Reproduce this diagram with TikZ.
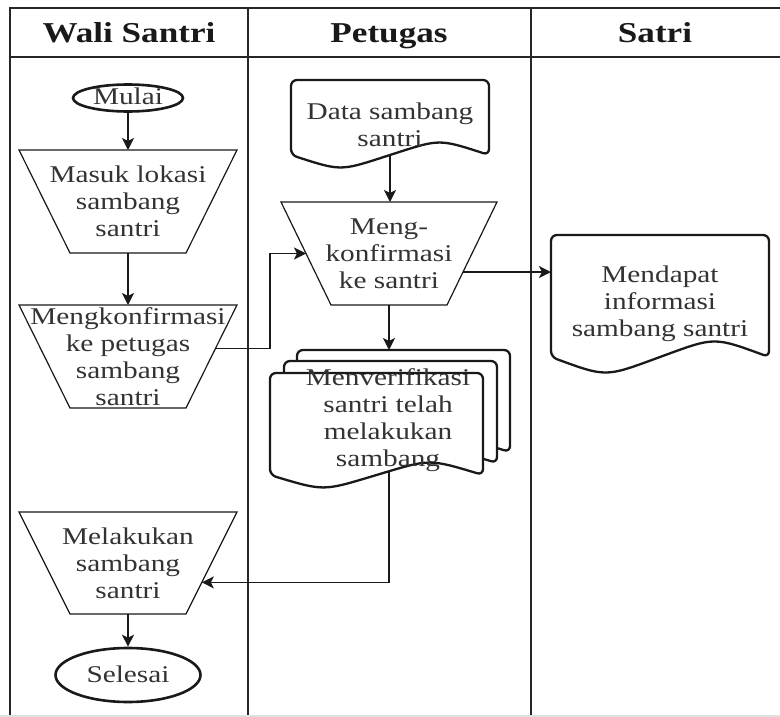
\documentclass[tikz,border=0pt]{standalone}
\usepackage{fontspec}
\setmainfont{Liberation Serif}[FakeStretch=1.22]
\usetikzlibrary{arrows.meta,calc,shapes.geometric}

\newcommand\trapz[2]{%
  \coordinate (#1-se) at ($(#1.south east)+(-#2,0)$);
  \coordinate (#1-sw) at ($(#1.south west)+(#2,0)$);
  \draw[trap] (#1.north west) -- (#1.north east) -- (#1-se) -- (#1-sw) -- cycle;}
\newcommand\docz[2]{%
  \draw[docl] (#1.north) -- (#1.north east) -- (#1.south east)
    .. controls ($(#1.south east)!0.5!(#1.south)+(0,-#2)$) .. (#1.south)
    .. controls ($(#1.south west)!0.5!(#1.south)+(0,#2)$) .. (#1.south west)
    -- (#1.north west) -- cycle;}

\begin{document}
\begin{tikzpicture}[x=1pt,y=-1pt,
  lane/.style={line width=1.8pt, draw=black!85},
  hdr/.style={font=\fontsize{28.8}{34}\selectfont\bfseries, text=black!90, inner sep=0, anchor=base},
  txt/.style={font=\fontsize{24}{27}\selectfont, align=center, text=black!80, inner sep=0},
  box/.style={draw=none, inner sep=0, outer sep=0, rectangle},
  trap/.style={line width=1.2pt, fill=white, draw=black!90},
  docl/.style={line width=2.3pt, fill=white, rounded corners=6pt, draw=black!90},
  term/.style={ellipse, draw=black!90, line width=2.6pt, inner sep=0, fill=white,
    font=\fontsize{24}{27}\selectfont, text=black!80, text height=16pt, text depth=2pt},
  arr/.style={line width=1.4pt, draw=black!90, -{Stealth[length=12pt,width=12pt,inset=3pt]}},
]
\useasboundingbox (0,0) rectangle (780,717);
\fill[white] (0,0) rectangle (780,717);

% lanes
\draw[lane] (10,717) -- (10,8) -- (780,8);
\draw[lane] (10,57) -- (780,57);
\draw[lane] (248,8) -- (248,717);
\draw[lane] (531,8) -- (531,717);
\draw[black!12, line width=1.5pt] (0,716) -- (780,716);

\node[hdr] (h1) at (129,43) {Wali Santri};
\node[hdr] (h2) at (389,43) {Petugas};
\node[hdr] (h3) at (655,43) {Satri};

% shape boxes
\node[term, minimum width=110pt, minimum height=27pt] (mulai) at (128,98) {Mulai};
\node[box, minimum width=218pt, minimum height=103pt] (t1) at (128,201.5) {};
\node[box, minimum width=218pt, minimum height=103pt] (t2) at (128,356.5) {};
\node[box, minimum width=216pt, minimum height=103pt] (t3) at (389,253.5) {};
\node[box, minimum width=218pt, minimum height=102pt] (t4) at (128,563) {};
\node[term, minimum width=145pt, minimum height=54pt] (selesai) at (128,675) {Selesai};
\node[box, minimum width=198pt, minimum height=75pt] (d1) at (390,117.5) {};
\node[box, minimum width=218pt, minimum height=122pt] (ds) at (660,296) {};
\node[box, minimum width=213pt, minimum height=102pt] (mb) at (403.5,401) {};
\node[box, minimum width=213pt, minimum height=102pt] (mm) at (390.5,412) {};
\node[box, minimum width=213pt, minimum height=102pt] (m) at (376.5,424) {};

\trapz{t1}{51}
\trapz{t2}{51}
\trapz{t3}{50}
\trapz{t4}{51}
\docz{d1}{16}
\docz{ds}{20}
\docz{mb}{16}
\docz{mm}{16}
\docz{m}{16}

% texts
\node[txt] (t1t) at (t1) {Masuk lokasi\\sambang\\santri};
\node[txt] (t2t) at (t2) {Mengkonfirmasi\\ke petugas\\sambang\\santri};
\node[txt] (t3t) at (t3) {Meng-\\konfirmasi\\ke santri};
\node[txt] (t4t) at (t4) {Melakukan\\sambang\\santri};
\node[txt] (d1t) at (390,125) {Data sambang\\santri};
\node[txt] (dst) at (660,304) {Mendapat\\informasi\\sambang santri};
\node[txt] (mt) at (388,420) {Menverifikasi\\santri telah\\melakukan\\sambang};

% connectors
\coordinate (k1) at (270,0);
\coordinate (t2out) at ($(t2.north east)!0.42!(t2-se)$);
\coordinate (t3in) at ($(t3.north west)!0.5!(t3-sw)$);
\coordinate (t3out) at ($(t3.north east)!0.68!(t3-se)$);
\coordinate (mout) at ($(t3.south |- m.south)+(0,-4)$);
\coordinate (t4in) at ($(t4.north east)!0.69!(t4-se)$);

\draw[arr] (mulai.south) -- (t1.north);
\draw[arr] (t1.south) -- (t2.north);
\draw[arr] (t2out) -- (t2out -| k1) -- (k1 |- t3in) -- (t3in);
\draw[arr] (d1.south) -- (d1.south |- t3.north);
\draw[arr] (t3.south) -- (t3.south |- mb.north);
\draw[arr] (t3out) -- (t3out -| ds.west);
\draw[arr] (mout) -- (mout |- t4in) -- (t4in);
\draw[arr] (t4.south) -- (selesai.north);
\end{tikzpicture}
\end{document}
